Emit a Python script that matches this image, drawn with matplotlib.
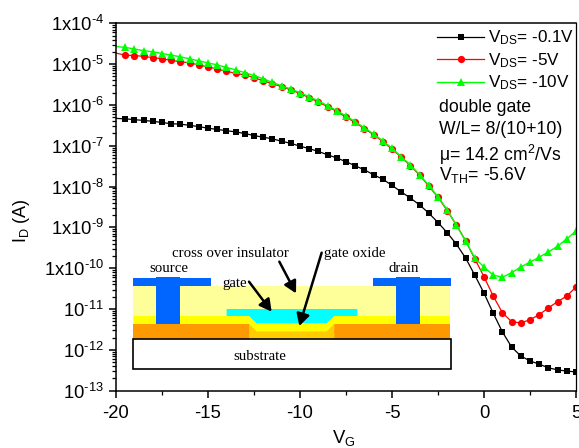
import matplotlib
matplotlib.use('Agg')
import matplotlib.pyplot as plt
from matplotlib.patches import Polygon, Rectangle
from matplotlib.ticker import FixedLocator, LogLocator, NullFormatter

plt.rcParams['font.family'] = ['Liberation Sans', 'DejaVu Sans']
plt.rcParams['mathtext.fontset'] = 'custom'
plt.rcParams['mathtext.rm'] = 'Liberation Sans'
plt.rcParams['mathtext.it'] = 'Liberation Sans'
plt.rcParams['mathtext.bf'] = 'Liberation Sans'
plt.rcParams['mathtext.default'] = 'regular'

vg = [-20, -19.5, -19, -18.5, -18, -17.5, -17, -16.5, -16, -15.5, -15, -14.5, -14,
      -13.5, -13, -12.5, -12, -11.5, -11, -10.5, -10, -9.5, -9, -8.5, -8, -7.5, -7,
      -6.5, -6, -5.5, -5, -4.5, -4, -3.5, -3, -2.5, -2, -1.5, -1, -0.5, 0, 0.5, 1,
      1.5, 2, 2.5, 3, 3.5, 4, 4.5, 5]

# log10(I_D)
log_id_01 = [-6.33, -6.34, -6.36, -6.38, -6.40, -6.43, -6.46, -6.47, -6.50, -6.53, -6.57,
             -6.60, -6.63, -6.66, -6.70, -6.75, -6.79, -6.83, -6.89, -6.94, -7.01, -7.07,
             -7.14, -7.22, -7.30, -7.39, -7.49, -7.59, -7.71, -7.82, -7.97, -8.13, -8.28,
             -8.45, -8.65, -8.88, -9.13, -9.41, -9.75, -10.17, -10.61, -11.10, -11.56,
             -11.93, -12.15, -12.27, -12.35, -12.44, -12.49, -12.52, -12.54]
log_id_5 = [-4.73, -4.78, -4.79, -4.81, -4.84, -4.87, -4.91, -4.94, -4.97, -5.02, -5.07,
            -5.12, -5.18, -5.22, -5.27, -5.33, -5.41, -5.48, -5.55, -5.63, -5.72, -5.82,
            -5.93, -6.04, -6.16, -6.30, -6.43, -6.58, -6.73, -6.90, -7.08, -7.28, -7.49,
            -7.72, -7.99, -8.26, -8.59, -8.94, -9.33, -9.77, -10.21, -10.68, -11.09,
            -11.31, -11.34, -11.26, -11.14, -10.97, -10.82, -10.68, -10.46]
log_id_10 = [-4.57, -4.59, -4.63, -4.67, -4.70, -4.74, -4.78, -4.82, -4.87, -4.92, -4.97,
             -5.02, -5.08, -5.14, -5.21, -5.28, -5.36, -5.45, -5.53, -5.61, -5.70, -5.80,
             -5.90, -6.02, -6.14, -6.27, -6.41, -6.56, -6.71, -6.88, -7.06, -7.27, -7.47,
             -7.71, -7.97, -8.25, -8.57, -8.95, -9.33, -9.75, -9.97, -10.17, -10.22,
             -10.11, -9.97, -9.85, -9.73, -9.60, -9.46, -9.28, -9.09]

x_ticks = [-20, -15, -10, -5, 0, 5]
x_minor = [-17.5, -12.5, -7.5, -2.5, 2.5]
y_exps = [-13, -12, -11, -10, -9, -8, -7, -6, -5, -4]
y_prefix = ['', '', '', '1x', '1x', '1x', '1x', '1x', '1x', '1x']

W, H = 579, 448
fig = plt.figure(figsize=(W / 100, H / 100), dpi=100)
ax = fig.add_axes([116 / W, 1 - 390.7 / H, 460 / W, 367.4 / H])


def to_current(logs):
    return [10.0 ** v for v in logs]


ax.plot(vg, to_current(log_id_01), '-', color='black', lw=0.9, marker='s', ms=4.2,
        mew=0, markevery=(1, 1), label='V$_{DS}$= -0.1V')
ax.plot(vg, to_current(log_id_5), '-', color='#ff0000', lw=0.9, marker='o', ms=5.2,
        mew=0, markevery=(1, 1), label='V$_{DS}$= -5V')
ax.plot(vg, to_current(log_id_10), '-', color='#00ff00', lw=1.0, marker='^', ms=5.6,
        mew=0, markevery=(1, 1), label='V$_{DS}$= -10V')

ax.set_xlim(-20, 5)
ax.set_yscale('log')
ax.set_ylim(1e-13, 1e-4)
ax.xaxis.set_major_locator(FixedLocator(x_ticks))
ax.xaxis.set_minor_locator(FixedLocator(x_minor))
ax.set_xticklabels([str(v) for v in x_ticks])
ax.yaxis.set_major_locator(FixedLocator([10.0 ** e for e in y_exps]))
ax.set_yticklabels(['%s10$^{\u2010%d}$' % (p, abs(e)) for p, e in zip(y_prefix, y_exps)])
ax.yaxis.set_minor_locator(LogLocator(base=10, subs=range(2, 10), numticks=20))
ax.yaxis.set_minor_formatter(NullFormatter())
ax.tick_params(axis='both', which='major', length=5, width=1.1, labelsize=13.3)
ax.tick_params(axis='x', which='major', pad=5)
ax.tick_params(axis='y', which='major', pad=3.5)
ax.tick_params(axis='both', which='minor', length=2.8, width=0.9)
for s in ax.spines.values():
    s.set_linewidth(1.1)
ax.spines['right'].set_linewidth(0.9)

leg = ax.legend(loc='upper left', bbox_to_anchor=(318 / 460, 1 - 2 / 367.4), frameon=False, fontsize=12.3,
                handlelength=2.75, handletextpad=0.22, labelspacing=0.22, borderaxespad=0,
                borderpad=0.2)

# overlay in picture pixels for the notes and the device sketch
ov = fig.add_axes([0, 0, 1, 1], facecolor='none')
ov.set_xlim(0, W)
ov.set_ylim(H, 0)
ov.axis('off')

ov.text(439, 107, 'double gate', fontsize=12.7, va='center')
ov.text(439, 129, 'W/L= 8/(10+10)', fontsize=12.7, va='center')
ov.text(439, 155, '\u03bc= 14.2 cm$^{2}$/Vs', fontsize=12.7, va='center')
ov.text(439, 175, 'V$_{TH}$= -5.6V', fontsize=12.7, va='center')
ov.text(22, 221, 'I$_{D}$ (A)', fontsize=13, rotation=90, ha='center', va='center')
ov.text(332, 438, 'V$_{G}$', fontsize=13.3, va='center', clip_on=False)


def zx(z):
    return 100 + z / 3


def zy(z):
    return 230 + z / 3


def poly(pts, color, z=2):
    ov.add_patch(Polygon([(zx(a), zy(b)) for a, b in pts], closed=True, fc=color, ec='none', zorder=z))


poly([(100, 167), (1050, 167), (1050, 258), (100, 258)], '#ffff99')
poly([(100, 282), (1050, 282), (1050, 328), (100, 328)], '#ff9900')
poly([(447, 282), (470, 305), (680, 305), (703, 282), (703, 328), (447, 328)], '#ffcc00', 3)
poly([(100, 258), (447, 258), (470, 280), (680, 280), (703, 258), (1050, 258), (1050, 282),
      (703, 282), (680, 305), (470, 305), (447, 282), (100, 282)], '#ffff00', 3)
poly([(380, 237), (772, 237), (772, 258), (703, 258), (680, 280), (470, 280), (447, 258),
      (380, 258)], '#00ffff', 3)
for a in (100, 820):
    poly([(a, 144), (a + 232, 144), (a + 232, 167), (a, 167)], '#0066ff', 4)
    poly([(a + 68, 141), (a + 140, 141), (a + 140, 282), (a + 68, 282)], '#0066ff', 4)
ov.add_patch(Rectangle((zx(100), zy(328)), 952 / 3, 90 / 3, fc='white', ec='black', lw=1.2, zorder=4))

serif = ['Liberation Serif', 'DejaVu Serif']
for s, a, b in [('cross over insulator', 390, 70), ('source', 207, 117), ('drain', 912, 117),
                ('gate', 404, 160), ('gate oxide', 763, 72), ('substrate', 480, 380)]:
    ov.text(zx(a), zy(b), s, family=serif, fontsize=10.7, ha='center', va='center', zorder=6)

for a0, b0, a1, b1 in [(538, 95, 588, 190), (447, 155, 515, 245), (665, 68, 598, 288)]:
    ov.annotate('', xy=(zx(a1), zy(b1)), xytext=(zx(a0), zy(b0)), zorder=6,
                arrowprops=dict(arrowstyle='-|>,head_length=0.55,head_width=0.3', color='black', lw=1.8,
                                mutation_scale=13, shrinkA=0, shrinkB=0))

fig.savefig('out.png', dpi=100)
